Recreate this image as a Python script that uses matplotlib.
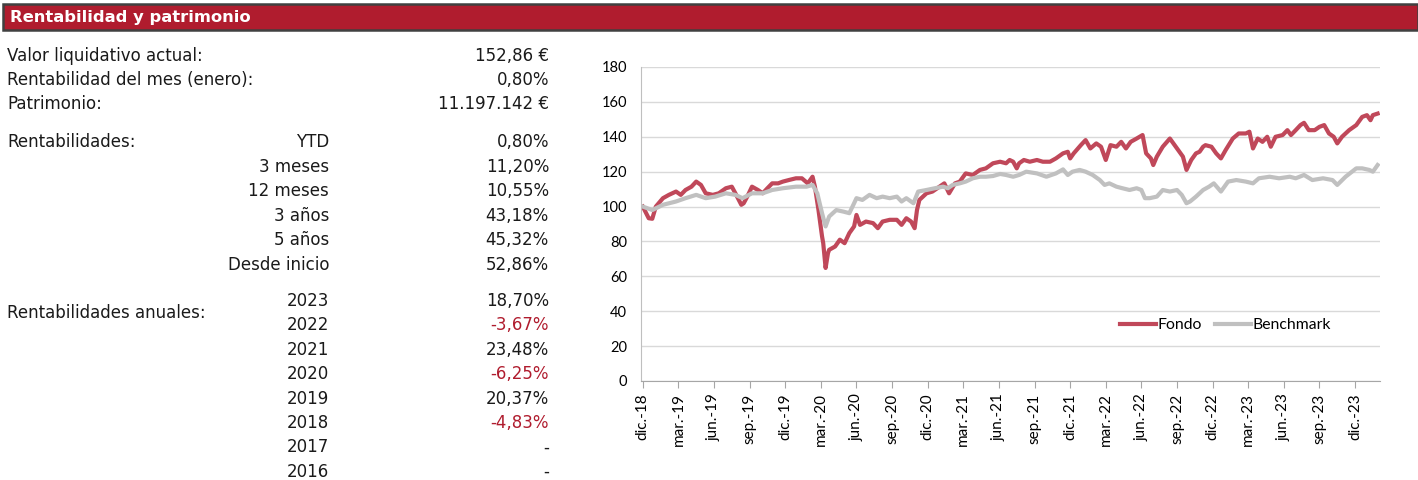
import numpy as np
import matplotlib
matplotlib.use('Agg')
import matplotlib.pyplot as plt
from matplotlib.patches import Rectangle

# meses desde dic.-18 / valor base 100
fondo_m = [0.0, 0.5, 0.8, 1.1, 1.7, 2.2, 2.8, 3.2, 3.6, 4.1, 4.5, 4.9, 5.3, 5.9, 6.4, 7.0, 7.5, 7.8, 8.3, 8.5,
           8.8, 9.2, 9.7, 10.1, 10.5, 10.9, 11.4, 11.8, 12.3, 12.9, 13.4, 13.9, 14.3, 14.5, 14.8, 15.1, 15.2, 15.4,
           15.6, 15.7, 16.2, 16.6, 17.0, 17.4, 17.8, 18.0, 18.3, 18.8, 19.4, 19.8, 20.2, 20.8, 21.4, 21.8, 22.2,
           22.6, 22.9, 23.1, 23.3, 23.9, 24.4, 25.0, 25.4, 25.8, 26.3, 26.7, 27.2, 27.8, 28.4, 28.9, 29.5, 30.1,
           30.6, 30.9, 31.2, 31.5, 31.7, 32.1, 32.6, 33.2, 33.7, 34.3, 34.8, 35.4, 35.8, 36.0, 36.3, 36.9, 37.3,
           37.7, 38.2, 38.6, 39.0, 39.4, 39.9, 40.3, 40.7, 41.1, 41.6, 42.1, 42.4, 42.8, 43.0, 43.3, 43.8, 44.4,
           44.8, 45.2, 45.5, 45.8, 46.2, 46.6, 46.9, 47.2, 47.4, 47.9, 48.3, 48.7, 49.1, 49.7, 50.2, 50.8, 51.1,
           51.4, 51.8, 52.2, 52.6, 52.9, 53.3, 53.9, 54.3, 54.6, 55.0, 55.4, 55.7, 56.1, 56.6, 57.0, 57.4, 57.8,
           58.2, 58.5, 58.9, 59.5, 60.1, 60.6, 61.0, 61.3, 61.5, 61.9]
fondo_v = [100, 93.3, 93, 100, 104.8, 106.7, 108.6, 106.7, 109.5, 111.4, 114.3, 112.4, 107.6, 106.7, 107.6, 110.5,
           111.4, 107.6, 101, 101.9, 105.7, 111.4, 109.5, 107.6, 110.5, 113.3, 113.3, 114.3, 115.2, 116.2, 116.2,
           113.3, 117.1, 111.4, 98, 82.9, 79, 64.8, 73.3, 75.2, 77.1, 81, 79, 84.8, 88.6, 95.2, 89.5, 91.4, 90.5,
           87.6, 91.4, 92.4, 92.4, 89.5, 93.3, 91.4, 87.6, 98.1, 103.8, 107.6, 108.6, 111.4, 113.3, 107.6, 113.3,
           114.3, 119, 118.1, 121, 121.9, 124.8, 125.7, 124.8, 126.7, 125.7, 121.9, 124.8, 126.7, 125.7, 126.7,
           125.7, 125.7, 127.6, 130.5, 131.4, 127.6, 130.5, 135.2, 138.1, 133.3, 136.2, 134.3, 126.7, 135.2, 134.3,
           137.1, 133.3, 137.1, 139, 141, 130.5, 127.6, 123.8, 128.6, 134.3, 139, 135.2, 131.4, 128.6, 121, 126.7,
           130.5, 131.4, 134.3, 135.2, 134.3, 130.5, 127.6, 132.4, 139, 141.9, 141.9, 142.9, 133.3, 139, 137.1, 140,
           134.3, 140, 141, 143.8, 141, 143.8, 146.7, 148, 143.8, 143.8, 145.7, 146.7, 141.9, 140, 136.2, 140,
           143.8, 146.7, 151.4, 152.4, 149.5, 152.4, 153.3]

bench_m = [0.0, 0.8, 1.7, 2.8, 3.6, 4.5, 5.3, 6.1, 7.0, 7.8, 8.4, 9.2, 10.1, 10.9, 11.8, 12.9, 13.8, 14.3, 14.7,
           15.1, 15.4, 15.7, 16.3, 16.9, 17.4, 17.8, 18.0, 18.5, 19.1, 19.7, 20.2, 20.8, 21.4, 21.8, 22.2, 22.8,
           23.2, 23.9, 24.6, 25.3, 25.7, 26.1, 26.7, 27.2, 27.8, 28.4, 28.9, 29.5, 30.1, 30.6, 31.2, 31.7, 32.3,
           33.2, 34.0, 34.8, 35.4, 35.8, 36.2, 36.8, 37.3, 37.9, 38.5, 38.9, 39.3, 39.9, 40.4, 41.0, 41.6, 42.0,
           42.3, 42.7, 43.3, 43.8, 44.4, 45.0, 45.4, 45.8, 46.1, 46.6, 47.2, 47.7, 48.1, 48.7, 49.3, 50.0, 50.8,
           51.4, 51.9, 52.8, 53.6, 54.5, 55.0, 55.7, 56.4, 57.3, 58.1, 58.5, 59.2, 60.1, 60.6, 61.2, 61.5, 61.9]
bench_v = [100, 98, 101, 102.9, 104.8, 106.7, 104.8, 105.7, 107.6, 106.7, 104.8, 107.6, 107.6, 109.5, 110.5, 111.4,
           111.4, 112.4, 107.6, 96.2, 88.6, 94.3, 98, 97.1, 96.2, 101.9, 104.8, 103.8, 106.7, 104.8, 105.7, 104.8,
           105.7, 102.9, 104.8, 101.9, 108.6, 109.5, 110.5, 111.4, 110.5, 112.4, 113.3, 114.3, 116.2, 117.1, 117.1,
           117.5, 118.7, 118.1, 117.1, 118.1, 120, 119, 117.1, 119, 121.3, 118.1, 120, 121, 120, 118.1, 115.2, 112.4,
           113.3, 111.4, 110.5, 109.5, 110.5, 109.5, 104.8, 104.8, 105.7, 109.5, 108.6, 109.5, 106.7, 101.9, 102.9,
           105.7, 109.5, 111.4, 113.3, 108.6, 114.3, 115.2, 114.3, 113.3, 116.2, 117.1, 116.2, 117.1, 116.2, 118.1,
           115.2, 116.2, 115.2, 112.4, 117.1, 121.9, 121.9, 121, 120, 123.8]

tick_m = list(range(0, 61, 3))
tick_labels = ['dic.-18', 'mar.-19', 'jun.-19', 'sep.-19', 'dic.-19', 'mar.-20', 'jun.-20', 'sep.-20', 'dic.-20',
               'mar.-21', 'jun.-21', 'sep.-21', 'dic.-21', 'mar.-22', 'jun.-22', 'sep.-22', 'dic.-22', 'mar.-23',
               'jun.-23', 'sep.-23', 'dic.-23']

top_labels = ['Valor liquidativo actual:', 'Rentabilidad del mes (enero):', 'Patrimonio:']
top_values = ['152,86 €', '0,80%', '11.197.142 €']
periodos = ['YTD', '3 meses', '12 meses', '3 años', '5 años', 'Desde inicio']
rent_periodos = ['0,80%', '11,20%', '10,55%', '43,18%', '45,32%', '52,86%']
anios = ['2023', '2022', '2021', '2020', '2019', '2018', '2017', '2016']
rent_anios = ['18,70%', '-3,67%', '23,48%', '-6,25%', '20,37%', '-4,83%', '-', '-']

W, H = 1418, 480
rojo = '#B01C2E'
fig = plt.figure(figsize=(W / 100, H / 100), dpi=100)

# cabecera
fig.patches.append(Rectangle((3 / W, 1 - 30 / H), (W - 3) / W, 26 / H, transform=fig.transFigure,
                             facecolor=rojo, edgecolor='#404040', linewidth=1.8))
fig.text(10 / W, 1 - 17.5 / H, 'Rentabilidad y patrimonio', color='white', fontweight='bold',
         fontsize=11.8, family='DejaVu Sans', va='center')

def txt(x, y, s, ha='left', color='#1a1a1a'):
    fig.text(x / W, 1 - y / H, s, ha=ha, va='center', fontsize=12, family='DejaVu Sans', color=color)

for i, (l, v) in enumerate(zip(top_labels, top_values)):
    txt(7, 56 + i * 24, l)
    txt(549, 56 + i * 24, v, ha='right')

txt(7, 142, 'Rentabilidades:')
for i, (p, v) in enumerate(zip(periodos, rent_periodos)):
    txt(329, 142 + i * 24.6, p, ha='right')
    txt(549, 142 + i * 24.6, v, ha='right')

txt(7, 313, 'Rentabilidades anuales:')
for i, (a, v) in enumerate(zip(anios, rent_anios)):
    txt(329, 301 + i * 24.4, a, ha='right')
    txt(549, 301 + i * 24.4, v, ha='right', color=rojo if v.startswith('-') and len(v) > 1 else '#1a1a1a')

# grafico
ax = fig.add_axes([641 / W, 1 - 381 / H, (1380 - 641) / W, (381 - 67) / H])
ax.plot(fondo_m, fondo_v, color='#C0485A', lw=3, label='Fondo', solid_joinstyle='round')
ax.plot(bench_m, bench_v, color='#C0C0C0', lw=3, label='Benchmark', solid_joinstyle='round')
ax.set_xlim(-0.15, 62.1)
ax.set_ylim(0, 180)
ax.set_yticks(range(0, 181, 20))
ax.grid(axis='y', color='#D9D9D9', lw=1)
ax.set_axisbelow(True)
ax.set_xticks(tick_m)
ax.set_xticklabels(tick_labels, rotation=90, family='Lato', fontsize=11)
for t in ax.get_yticklabels():
    t.set_family('Lato')
    t.set_fontsize(10.5)
ax.tick_params(axis='y', length=0, pad=10)
ax.tick_params(axis='x', length=5, color='#A6A6A6', pad=4)
for s in ['top', 'right']:
    ax.spines[s].set_visible(False)
ax.spines['left'].set_color('#BFBFBF')
ax.spines['bottom'].set_color('#A6A6A6')
leg = ax.legend(loc='center', bbox_to_anchor=(0.791, 0.177), ncol=2, frameon=False,
                prop={'family': 'Lato', 'size': 11.3}, handlelength=2.3, handletextpad=0.1, columnspacing=0.8)

fig.savefig('out.png', dpi=100)
